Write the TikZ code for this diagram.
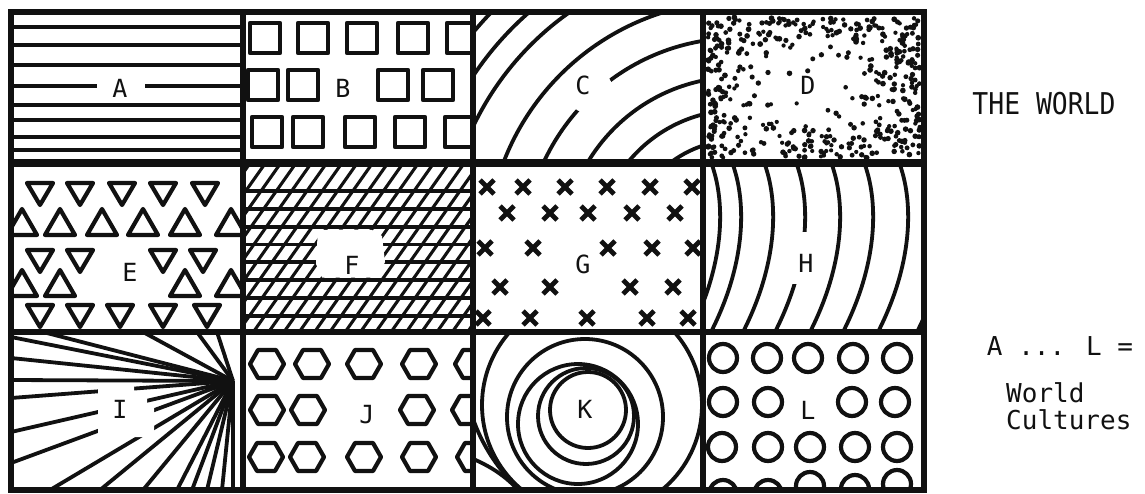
\documentclass[tikz,border=0pt]{standalone}
\usepackage{fontspec}
\usepackage{xcolor}
\usepackage{tikz}
\newfontfamily\tagfont{DejaVu Sans Mono}
\newfontfamily\titlefont[FakeStretch=0.88]{DejaVu Sans Mono}
\definecolor{WorldInk}{HTML}{111111}
\tikzset{
  wdframe/.style={draw=WorldInk, line width=5.5pt},
  wdrule/.style={draw=WorldInk, line width=3.8pt},
  wdmotif/.style={draw=WorldInk, line width=4.2pt, line join=round},
  wdgap/.style={fill=white},
  wdtag/.style={font=\tagfont\fontsize{25}{25}\selectfont, text=WorldInk, inner sep=0pt},
  wdnote/.style={font=\tagfont\fontsize{26}{26}\selectfont, text=WorldInk, inner sep=0pt}
}

\begin{document}
\begin{tikzpicture}[x=1pt,y=-1pt]
  \useasboundingbox (0,0) rectangle (1145,493);
  % A: stripes
  \begin{scope}
    \clip (11,12) rectangle (243,163);
    \foreach \y in {27,45,65,105,120,137,150}
      \draw[wdrule] (11,\y) -- (243,\y);
    \draw[wdrule] (11,86) -- (97,86) (145,86) -- (243,86);
  \end{scope}
  % B: squares
  \begin{scope}
    \clip (243,12) rectangle (473,163);
    \foreach \x/\y in {250/23,298/23,347/23,398/23,447/23,248/70,288/70,378/70,423/70,
                       252/117,293/117,345/117,395/117,445/117}
      \draw[wdmotif] (\x,\y) rectangle ++(30,30);
  \end{scope}
  % C: rings
  \begin{scope}
    \clip (473,12) rectangle (703,163);
    \foreach \r in {112,142,175,214,251,293,318,344}
      \draw[wdrule] (738,252) circle[radius=\r];
    \fill[wdgap] (590,91) circle[radius=23];
  \end{scope}
  % D: stipple
  \begin{scope}
    \clip (703,12) rectangle (924,163);
    \pgfmathsetseed{5}
    \foreach \k in {1,...,1250}{
      \pgfmathsetmacro\ru{rnd}
      \pgfmathsetmacro\rv{rnd}
      \pgfmathsetmacro\rd{max(abs(2*\ru-1),abs(2*\rv-1)*(\rv<0.5 ? 1 : 0.9))}
      \pgfmathtruncatemacro\keep{rnd<(0.05+0.95*\rd*\rd*\rd)}
      \pgfmathsetmacro\rr{2.1+0.8*rnd}
      \ifnum\keep=1
        \fill[WorldInk] (708+212*\ru,17+141*\rv) circle[radius=\rr];
      \fi
    }
  \end{scope}
  % E: triangles
  \begin{scope}
    \clip (11,163) rectangle (243,332);
    \foreach \x/\y in {40/193,80/193,122/193,163/193,205/193,40/260,80/260,163/260,203/260,
                       40/315,80/315,120/315,163/315,207/315}
      \draw[wdmotif] (\x,\y) ++(-13,-10) -- ++(26,0) -- ++(-13,22) -- cycle;
    \foreach \x/\y in {22/222,60/222,102/222,143/222,185/222,231/222,22/283,60/283,185/283,231/283}
      \draw[wdmotif] (\x,\y) ++(-15,13) -- ++(30,0) -- ++(-15,-26) -- cycle;
  \end{scope}
  % F: hatching
  \begin{scope}
    \clip (243,163) rectangle (473,332);
    \foreach \k in {0,...,7}
      \draw[wdrule] (243,191+17.8*\k) -- (473,191+17.8*\k);
    \foreach \x in {110,125.3,...,480}
      \draw[wdrule, line width=3.1pt] (\x,340) -- ++(127,-180);
    \fill[wdgap] (318,230) -- (345,229.5) -- (372,230) -- (382,236) -- (385,262)
      -- (378,277.5) -- (322,277.5) -- (316,264) -- (317,245) -- cycle;
  \end{scope}
  % G: crosses
  \begin{scope}
    \clip (473,163) rectangle (703,332);
    \foreach \x/\y in {487/187,523/187,565/187,607/187,650/187,692/187,
                       507/213,550/213,588/213,632/213,675/213,
                       485/248,533/248,608/248,652/248,693/248,
                       500/287,550/287,630/287,673/287,
                       483/318,530/318,587/318,647/318,688/318}
      \draw[wdmotif, line width=4.8pt] (\x,\y) ++(-7,-7) -- ++(14,14) ++(0,-14) -- ++(-14,14);
  \end{scope}
  % H: waves
  \begin{scope}
    \clip (703,163) rectangle (924,332);
    \foreach \x in {712,733,765,797,832,865,900,939}
      \draw[wdrule] (\x,165) .. controls (\x+14,205) and (\x+12,265) .. (\x-22,332);
    \fill[wdgap] (789,232) rectangle (818,284);
  \end{scope}
  % I: rays
  \begin{scope}
    \clip (11,332) rectangle (243,490);
    \foreach \ex/\ey in {11/337,11/358,11/380,11/398,11/432,11/463,43/332,143/332,197/332,217/332,
                         50/490,100/490,143/490,177/490,192/490,207/490,222/490,233/490}
      \draw[wdrule] (233,381) -- (\ex,\ey);
    \fill[wdgap] (98,385.5) -- (134,385.5) -- (134,392) -- (147,392) -- (147,404)
      -- (154,404) -- (154,437) -- (98,437) -- cycle;
  \end{scope}
  % J: hexagons
  \begin{scope}
    \clip (243,332) rectangle (473,490);
    \foreach \x/\y in {267/364,312/364,364/364,419/364,472/364,267/410,308/410,417/410,469/410,
                       266/457,307/457,364/457,419/457,474/457}
      \draw[wdmotif] (\x,\y) ++(-17,0) -- ++(8,-14) -- ++(18,0) -- ++(8,14) -- ++(-8,14) -- ++(-18,0) -- cycle;
  \end{scope}
  % K: whorl
  \begin{scope}
    \clip (473,332) rectangle (703,490);
    \foreach \cx/\cy/\r in {588/410/38,586/416/48,578/424/60,585/417/78,592/405/110,640/360/177}
      \draw[wdrule] (\cx,\cy) circle[radius=\r];
    \draw[wdrule] (471,458) .. controls (490,466) and (506,476) .. (520,492);
  \end{scope}
  % L: rings
  \begin{scope}
    \clip (703,332) rectangle (924,490);
    \foreach \x/\y in {723/358,767/358,808/358,853/358,897/358,723/402,768/402,852/402,895/402,
                       722/447,768/447,810/447,855/447,897/447,723/494,768/494,810/486,855/489,897/484}
      \draw[wdmotif] (\x,\y) circle[radius=14];
  \end{scope}
  % grid
  \draw[wdframe] (11,12) rectangle (924,490);
  \draw[wdframe] (243,12) -- (243,490) (473,12) -- (473,490) (703,12) -- (703,490);
  \draw[wdframe, line width=8pt] (11,163) -- (924,163);
  \draw[wdframe, line width=6.5pt] (11,332) -- (924,332);
  % labels
  \node[wdtag] (labA) at (120,88) {A};
  \node[wdtag] (labB) at (343,88) {B};
  \node[wdtag] (labC) at (583,85) {C};
  \node[wdtag] (labD) at (808,85) {D};
  \node[wdtag] (labE) at (130,272) {E};
  \node[wdtag] (labF) at (352,265) {F};
  \node[wdtag] (labG) at (583,264) {G};
  \node[wdtag] (labH) at (806,263) {H};
  \node[wdtag] (labI) at (120,409) {I};
  \node[wdtag] (labJ) at (367,415) {J};
  \node[wdtag] (labK) at (585,409) {K};
  \node[wdtag] (labL) at (808,410) {L};
  \node[wdtag, font=\titlefont\fontsize{30}{30}\selectfont] (world) at (1044,104) {THE WORLD};
  \node[wdnote] (key) at (1060,346) {A ... L =};
  \node[wdnote, anchor=west] (keyb) at (1006,393) {World};
  \node[wdnote, anchor=west] (keyc) at (1006,420) {Cultures};
\end{tikzpicture}
\end{document}
